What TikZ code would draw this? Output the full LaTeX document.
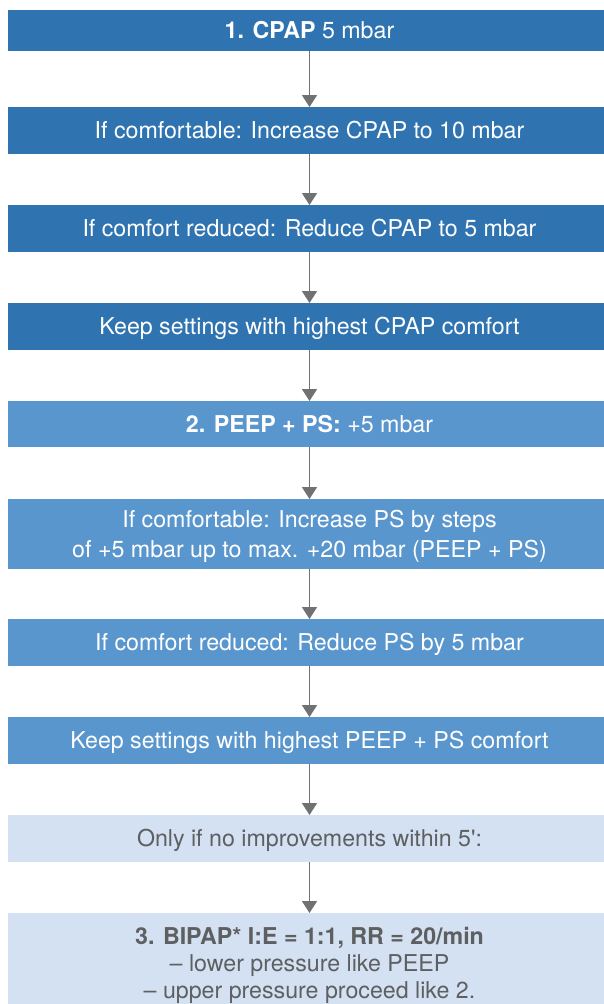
\documentclass[tikz,border=0pt]{standalone}
\usepackage{fontspec}
\setmainfont{TeX Gyre Heros}
\usetikzlibrary{arrows.meta}
\definecolor{cdark}{HTML}{2F74B0}
\definecolor{cmid}{HTML}{5A96CE}
\definecolor{clight}{HTML}{D3E1F3}
\definecolor{cgraytext}{HTML}{5E5F60}
\definecolor{carrow}{HTML}{707172}
\begin{document}
\begin{tikzpicture}[x=1pt,y=-1pt,
  box/.style={rectangle, minimum width=603pt, inner sep=0pt, outer sep=0pt,
    font=\fontsize{23.2}{27}\selectfont, text height=16.5pt, text depth=0pt, align=center},
  darkbox/.style={box, fill=cdark, text=white},
  midbox/.style={box, fill=cmid, text=white},
  lightbox/.style={box, fill=clight, text=cgraytext},
  arr/.style={draw=carrow, line width=1.7pt, -{Triangle[width=15pt,length=12pt]}}
]
\useasboundingbox (0,0) rectangle (604,1004);
\node[darkbox, minimum height=41pt] (b1) at (309.5,30.5) {\textbf{1. CPAP} 5 mbar};
\node[darkbox, minimum height=47pt] (b2) at (309.5,130.5) {If comfortable: Increase CPAP to 10 mbar};
\node[darkbox, minimum height=47pt] (b3) at (309.5,228.5) {If comfort reduced: Reduce CPAP to 5 mbar};
\node[darkbox, minimum height=47pt] (b4) at (309.5,326.5) {Keep settings with highest CPAP comfort};
\node[midbox, minimum height=46pt] (b5) at (309.5,424) {\textbf{2. PEEP + PS:} +5 mbar};
\node[midbox, minimum height=70pt, font=\fontsize{23.2}{30}\selectfont, text height=46.5pt, text depth=0pt] (b6) at (309.5,534)
  {If comfortable: Increase PS by steps\\of +5 mbar up to max. +20 mbar (PEEP + PS)};
\node[midbox, minimum height=47pt] (b7) at (309.5,642.5) {If comfort reduced: Reduce PS by 5 mbar};
\node[midbox, minimum height=47pt] (b8) at (309.5,740.5) {Keep settings with highest PEEP + PS comfort};
\node[lightbox, minimum height=47pt] (b9) at (309.5,838.5) {Only if no improvements within 5\textquotesingle:};
\node[lightbox, minimum height=101pt, text height=70.5pt, text depth=0pt] (b10) at (309.5,963.5)
  {\textbf{3. BIPAP* I:E = 1:1, RR = 20/min}\\– lower pressure like PEEP\\– upper pressure proceed like 2.};
\foreach \a/\b in {b1/b2,b2/b3,b3/b4,b4/b5,b5/b6,b6/b7,b7/b8,b8/b9,b9/b10}
  \draw[arr] (\a) -- (\b);
\end{tikzpicture}
\end{document}
